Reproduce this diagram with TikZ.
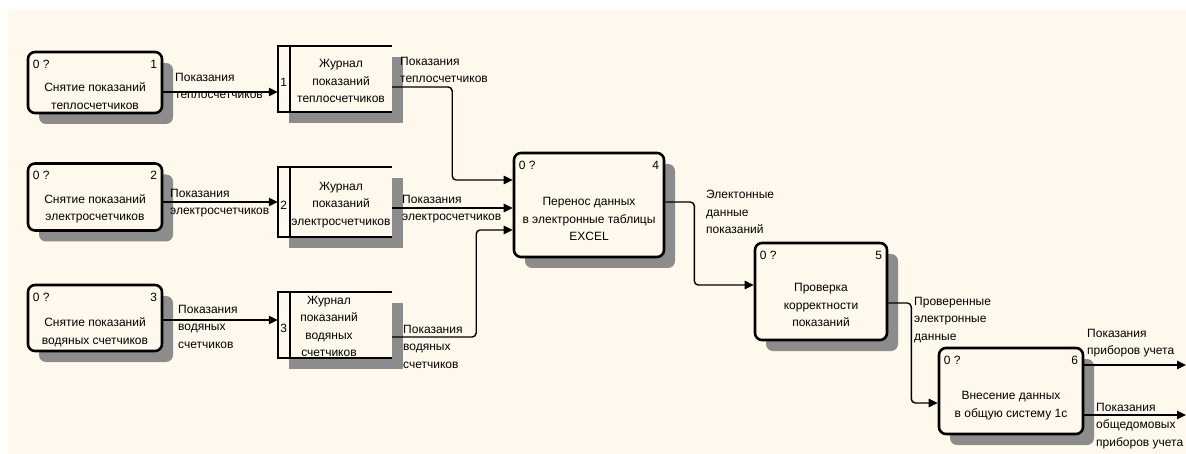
\documentclass[tikz,border=0pt]{standalone}
\usepackage{fontspec}
\setmainfont{Liberation Sans}
\usetikzlibrary{arrows.meta,shadows}
\definecolor{cream}{RGB}{255,249,237}
\tikzset{
  shad/.style={general shadow={shadow xshift=11pt, shadow yshift=-11pt, fill=black!45}},
  proc/.style={draw, line width=2.6pt, rounded corners=7pt, fill=cream, inner sep=0pt, shad},
  store/.style={fill=cream, inner sep=0pt, shad},
  storeline/.style={line width=2.4pt, line join=miter},
  flow/.style={line width=1.4pt, -{Triangle[length=9pt,width=8.5pt]}, rounded corners=4pt},
  txt/.style={inner sep=0pt, align=center},
  lbl/.style={inner sep=0pt, align=left, anchor=north west},
  idl/.style={inner sep=0pt}
}
\begin{document}
\begin{tikzpicture}[x=1pt,y=-1pt,font=\fontsize{12}{17.5}\selectfont]
\useasboundingbox (0,0) rectangle (1186,454);
\fill[white] (0,0) rectangle (1186,454);
\fill[cream] (8,10) rectangle (1186,454);

% process boxes
\node[proc, minimum width=134pt, minimum height=61pt] (p1) at (95,82.5) {};
\node[proc, minimum width=134pt, minimum height=67pt] (p2) at (95,197) {};
\node[proc, minimum width=134pt, minimum height=66pt] (p3) at (95,318) {};
\node[proc, minimum width=150pt, minimum height=104pt] (p4) at (589,205) {};
\node[proc, minimum width=132pt, minimum height=97pt] (p5) at (821,291.5) {};
\node[proc, minimum width=144pt, minimum height=86pt] (p6) at (1011,391) {};

% stores
\node[store, minimum width=114pt, minimum height=66pt] (s1) at (335,79) {};
\node[store, minimum width=114pt, minimum height=70pt] (s2) at (335,202) {};
\node[store, minimum width=114pt, minimum height=66pt] (s3) at (335,325) {};
\foreach \s in {s1,s2,s3}{
  \draw[storeline] (\s.north east) -- (\s.north west) -- (\s.south west) -- (\s.south east);
  \draw[storeline] ([xshift=12pt]\s.north west) -- ([xshift=12pt]\s.south west);
}

% ids
\foreach \p/\n in {p1/1,p2/2,p3/3,p4/4,p5/5,p6/6}{
  \node[idl, anchor=north west] (\p a) at ([xshift=6pt,yshift=-9pt]\p.north west) {0 ?};
  \node[idl, anchor=north east] (\p b) at ([xshift=-6pt,yshift=-9pt]\p.north east) {\n};
}
\foreach \s/\n in {s1/1,s2/2,s3/3}{
  \node[idl] (\s n) at ([xshift=6pt,yshift=-3pt]\s.west) {\n};
}

% box texts
\node[txt] (p1t) at ([yshift=-13.5pt]p1.center) {Снятие показаний\\теплосчетчиков};
\node[txt] (p2t) at ([yshift=-12pt]p2.center) {Снятие показаний\\электросчетчиков};
\node[txt] (p3t) at ([yshift=-14pt]p3.center) {Снятие показаний\\водяных счетчиков};
\node[txt] (p4t) at ([yshift=-14pt]p4.center) {Перенос данных\\в электронные таблицы\\EXCEL};
\node[txt] (p5t) at ([yshift=-13.5pt]p5.center) {Проверка\\корректности\\показаний};
\node[txt] (p6t) at ([yshift=-14.5pt]p6.center) {Внесение данных\\в общую систему 1с};
\node[txt] (s1t) at (341,81) {Журнал\\показаний\\теплосчетчиков};
\node[txt] (s2t) at (341,205) {Журнал\\показаний\\электросчетчиков};
\node[txt] (s3t) at (329,326.5) {Журнал\\показаний\\водяных\\счетчиков};

% connectors
\draw[flow] ([yshift=-9.5pt]p1.east) -- ([yshift=-9.5pt]p1.east -| s1.west);
\draw[flow] ([yshift=-5pt]p2.east) -- ([yshift=-5pt]p2.east -| s2.west);
\draw[flow] ([yshift=-2pt]p3.east) -- ([yshift=-2pt]p3.east -| s3.west);
\draw[flow] ([yshift=-8pt]s1.east) -- ++(60,0) |- ([yshift=25pt]p4.west);
\draw[flow] ([yshift=-6pt]s2.east) -- ([yshift=-6pt]s2.east -| p4.west);
\draw[flow] ([yshift=-12pt]s3.east) -- ++(84,0) |- ([yshift=-25pt]p4.west);
\draw[flow] ([yshift=3pt]p4.east) -- ++(29,0) |- ([yshift=6.5pt]p5.west);
\draw[flow] ([yshift=-11.5pt]p5.east) -- ++(23,0) |- ([yshift=-12pt]p6.west);
\coordinate (o1) at (1186,365);
\coordinate (o2) at (1186,415);
\draw[flow] (p6.east |- o1) -- (o1);
\draw[flow] (p6.east |- o2) -- (o2);

% labels
\node[lbl] (a1) at (175,73) {Показания\\теплосчетчиков};
\node[lbl] (a2) at (170,189) {Показания\\электросчетчиков};
\node[lbl] (a3) at (178,305) {Показания\\водяных\\счетчиков};
\node[lbl] (b1) at (400,57) {Показания\\теплосчетчиков};
\node[lbl] (b2) at (402,195) {Показания\\электросчетчиков};
\node[lbl] (b3) at (403,325) {Показания\\водяных\\счетчиков};
\node[lbl] (c1) at (706,190) {Электонные\\данные\\показаний};
\node[lbl] (d1) at (914,297) {Проверенные\\электронные\\данные};
\node[lbl] (e1) at (1087,329) {Показания\\приборов учета};
\node[lbl] (e2) at (1096,403) {Показания\\общедомовых\\приборов учета};
\end{tikzpicture}
\end{document}
